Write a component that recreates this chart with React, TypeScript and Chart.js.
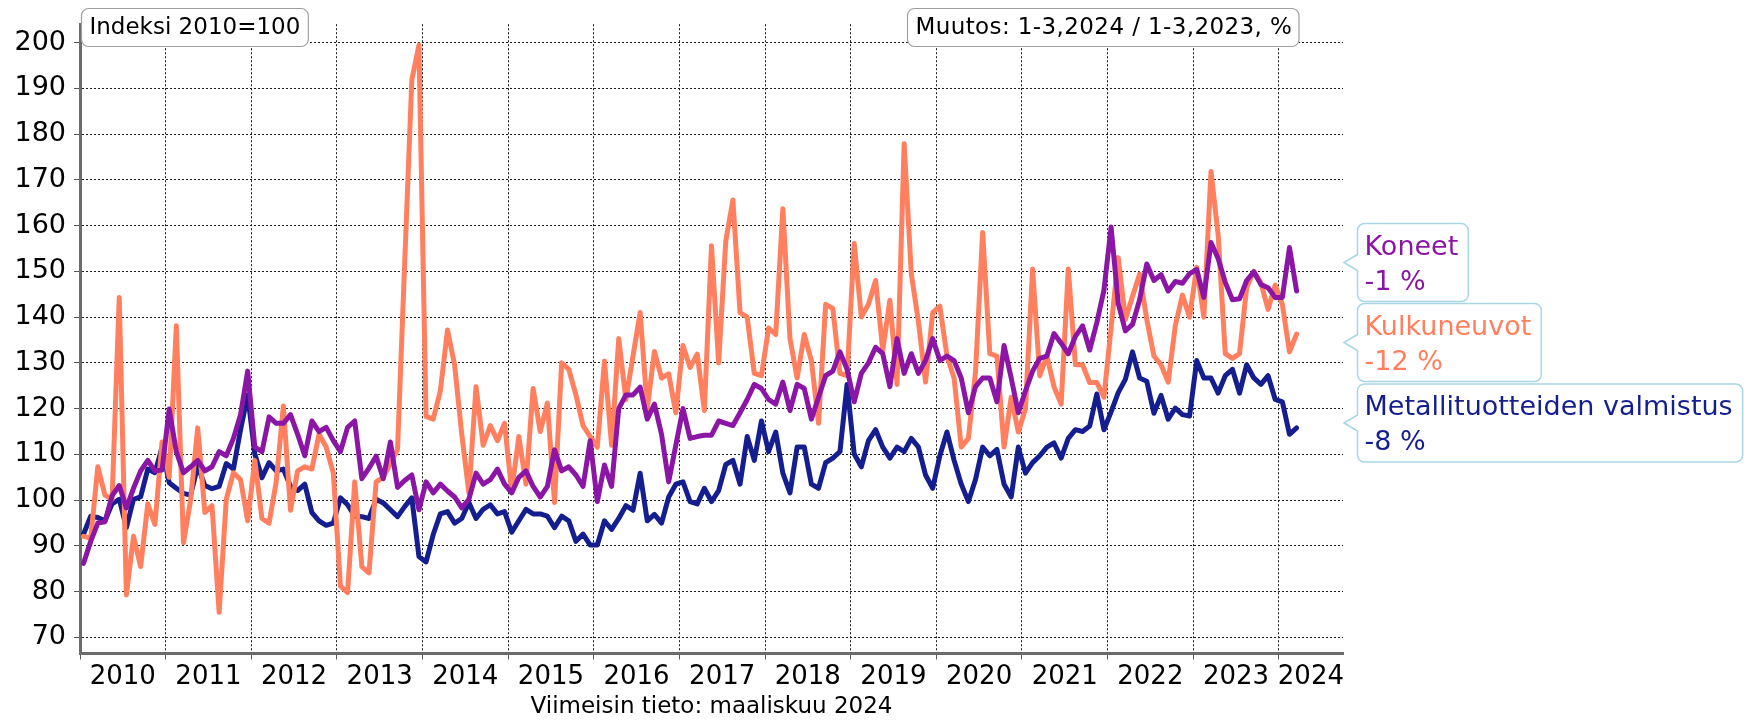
import React, { useEffect, useRef } from 'react';
import { Chart, registerables } from 'chart.js';

Chart.register(...registerables);

// ---- Data (monthly index 2010=100, Jan 2010 – Mar 2024) ----
const yearLabels = ['2010', '2011', '2012', '2013', '2014', '2015', '2016', '2017', '2018', '2019', '2020', '2021', '2022', '2023', '2024'];
const yTickValues = [70, 80, 90, 100, 110, 120, 130, 140, 150, 160, 170, 180, 190, 200];

const koneet = [
  86.2, 91, 95, 95.3, 101, 103.2, 98.3, 102.6, 106.4, 108.7, 106.4, 106.6,
  119.9, 110.6, 106, 107.3, 108.7, 106.4, 107.3, 110.6, 109.7, 113.5, 118.7, 128.2,
  111.6, 110.6, 118.2, 116.8, 116.8, 118.7, 114.4, 109.7, 117.3, 115, 115.9, 113,
  110.6, 115.9, 117.3, 104.7, 107, 109.6, 104.7, 112.7, 102.8, 104.3, 105.5, 97.9,
  104, 101.6, 103.5, 102, 100.7, 98.3, 100.2, 105.9, 103.5, 104.5, 106.8, 103.5,
  101.6, 105, 106.4, 103, 100.7, 103, 111, 106.4, 107.3, 105.5, 103, 113,
  99.7, 107.7, 103, 120, 123, 123, 124.7, 117.7, 121, 114.4, 104, 112,
  120, 113.5, 113.9, 114.2, 114.2, 117.3, 116.8, 116.3, 119.1, 122, 125.3, 124.4,
  122, 121, 125.8, 119.6, 125.3, 124.4, 117.7, 122.5, 127.2, 128.2, 132.4, 128.6,
  121.5, 127.7, 130, 133.4, 132, 124.8, 135.3, 127.7, 132, 127.7, 130.5, 135.3,
  130.5, 131.5, 130.5, 126.7, 119.1, 124.8, 126.7, 126.7, 121.5, 133.8, 126.7, 119.1,
  123.9, 128.2, 131, 131.5, 136.4, 134.3, 132, 135.8, 138.1, 132.8, 138.8, 145.9,
  159.7, 143, 137, 138.4, 143.8, 151.6, 148, 149.3, 145.7, 147.8, 147.4, 149.5,
  150.4, 144.3, 156.3, 152.8, 147.6, 143.8, 144, 148, 149.9, 147.1, 146.4, 144.3,
  144.3, 155.2, 145.7,
];

const kulkuneuvot = [
  92.1, 91.7, 107.3, 101.1, 100.2, 144.3, 79.3, 92.1, 85.5, 99.2, 94.7, 112.7,
  105, 138.1, 90.7, 100, 115.8, 97.3, 98.8, 75.5, 100.2, 106, 104.5, 95.5,
  108.7, 96, 95, 104, 120.6, 97.8, 106.4, 107.3, 106.8, 114.4, 111.6, 105.9,
  81.2, 79.8, 104, 85.5, 84.1, 104, 105, 108, 111.1, 151.7, 191.8, 199.4,
  118.3, 117.7, 123.9, 137.2, 129.6, 114.4, 101.6, 124.8, 112, 116.3, 113, 116.8,
  102, 113.9, 103.5, 124.4, 115, 121.2, 99.5, 130, 128.6, 123, 116.3, 113.9,
  111.6, 130.4, 112, 135.3, 122, 131.5, 141, 120, 132.5, 126.7, 127.6, 119.1,
  133.8, 129, 131.9, 119.6, 155.6, 130, 156.6, 165.6, 141, 140, 127.7, 127.2,
  137.6, 136.2, 163.7, 135.3, 126.7, 136.2, 130.5, 116.8, 142.8, 141.9, 127.7, 127.2,
  156.1, 140, 142.8, 148, 132.8, 143.7, 125.3, 177.9, 149.5, 139, 125.8, 141,
  142.4, 131.5, 126.7, 111.6, 113.5, 128, 158.5, 132, 131.5, 111.6, 122.5, 114.9,
  120, 150.5, 127.2, 131.5, 124.8, 121, 150.5, 129.6, 129.6, 125.7, 125.7, 122.5,
  137.7, 153, 139.5, 144.5, 149.4, 139.5, 131.5, 129.6, 125.8, 138.1, 144.8, 140,
  150.9, 140, 171.8, 158, 132, 131, 132, 146.5, 150, 147.5, 141.7, 147,
  142.8, 132.4, 136.3,
];

const metallituotteet = [
  92.6, 96.5, 96.2, 95.5, 99.2, 100.2, 94, 100.2, 100.7, 106.8, 106, 111.5,
  103.8, 102.6, 101.5, 101.1, 107.5, 103.2, 102.5, 103, 108, 106.8, 115.4, 123,
  110.1, 104.9, 108.2, 106.4, 106.8, 103, 102.1, 103.5, 97.3, 95.5, 94.5, 95,
  100.5, 99, 96.5, 96.4, 96, 100.2, 99.4, 97.9, 96.4, 98.6, 100.5, 87.7,
  86.5, 92.5, 97, 97.5, 95, 96, 99.5, 96, 98, 99, 97, 97.5,
  93, 95.5, 98, 97, 97, 96.5, 94, 96.5, 95.5, 91, 92.6, 90.2,
  90.2, 95.5, 93.6, 96, 98.8, 97.8, 105.9, 95.5, 96.9, 95, 100.7, 103.5,
  104, 99.7, 99.2, 102.6, 99.7, 102.1, 107.8, 108.7, 103.5, 113.9, 108.7, 117.3,
  110.6, 114.9, 105.9, 101.6, 111.6, 111.6, 103.5, 102.6, 108.2, 109.2, 110.6, 125.3,
  110.1, 107.3, 113, 115.4, 111.6, 109.2, 111.6, 110.6, 113.5, 111.6, 105.5, 102.6,
  109.7, 114.9, 108.7, 103.5, 99.7, 104.5, 111.6, 109.7, 111.1, 103.5, 100.7, 111.6,
  105.9, 108.2, 109.7, 111.6, 112.5, 109.2, 113.5, 115.4, 115, 116.2, 123.2, 115.4,
  119.3, 123.5, 126.4, 132.4, 126.7, 126, 119, 122.9, 117.7, 120.1, 118.7, 118.4,
  130.5, 126.7, 126.7, 123.4, 127.2, 128.6, 123.4, 129.6, 126.7, 125.3, 127.2, 122,
  121.5, 114.4, 115.8,
];

const seriesNames = ['Koneet', 'Kulkuneuvot', 'Metallituotteiden valmistus'];
const seriesChanges = ['-1 %', '-12 %', '-8 %'];
const indexNote = 'Indeksi 2010=100';
const changeNote = 'Muutos: 1-3,2024 / 1-3,2023, %';
const footerNote = 'Viimeisin tieto: maaliskuu 2024';

// ---- Styles ----
const COLORS = ['#8b16a5', '#ff7f5e', '#151e8e'];
const FONT = '"DejaVu Sans", Verdana, sans-serif';
const X_MAX = 177; // axis extends a little past the last month

const toPoints = (arr: number[]) => arr.map((v, i) => ({ x: i + 0.5, y: v }));

function roundRectPath(ctx: CanvasRenderingContext2D, x: number, y: number, w: number, h: number, r: number) {
  ctx.beginPath();
  ctx.moveTo(x + r, y);
  ctx.lineTo(x + w - r, y);
  ctx.arcTo(x + w, y, x + w, y + r, r);
  ctx.lineTo(x + w, y + h - r);
  ctx.arcTo(x + w, y + h, x + w - r, y + h, r);
  ctx.lineTo(x + r, y + h);
  ctx.arcTo(x, y + h, x, y + h - r, r);
  ctx.lineTo(x, y + r);
  ctx.arcTo(x, y, x + r, y, r);
  ctx.closePath();
}

function calloutPath(ctx: CanvasRenderingContext2D, x: number, y: number, w: number, h: number, r: number, tipX: number, tipY: number) {
  ctx.beginPath();
  ctx.moveTo(x + r, y);
  ctx.lineTo(x + w - r, y);
  ctx.arcTo(x + w, y, x + w, y + r, r);
  ctx.lineTo(x + w, y + h - r);
  ctx.arcTo(x + w, y + h, x + w - r, y + h, r);
  ctx.lineTo(x + r, y + h);
  ctx.arcTo(x, y + h, x, y + h - r, r);
  ctx.lineTo(x, tipY + 8);
  ctx.lineTo(tipX, tipY);
  ctx.lineTo(x, tipY - 8);
  ctx.lineTo(x, y + r);
  ctx.arcTo(x, y, x + r, y, r);
  ctx.closePath();
}

const annotationPlugin = {
  id: 'annotations',
  afterDraw(chart: any) {
    const ctx: CanvasRenderingContext2D = chart.ctx;
    const area = chart.chartArea;
    ctx.save();

    // top-left and top-right notes
    ctx.font = `23px ${FONT}`;
    ctx.textBaseline = 'middle';
    ctx.textAlign = 'left';
    const w1 = ctx.measureText(indexNote).width + 16;
    roundRectPath(ctx, 81.5, 8.5, w1, 38, 7);
    ctx.fillStyle = '#fff';
    ctx.fill();
    ctx.strokeStyle = '#a0a0a0';
    ctx.lineWidth = 1.2;
    ctx.stroke();
    ctx.fillStyle = '#000';
    ctx.fillText(indexNote, 89.5, 28.5);

    const x2 = 907.5;
    const w2 = 1299 - x2;
    roundRectPath(ctx, x2, 8.5, w2, 38, 7);
    ctx.fillStyle = '#fff';
    ctx.fill();
    ctx.strokeStyle = '#a0a0a0';
    ctx.stroke();
    ctx.fillStyle = '#000';
    (ctx as any).letterSpacing = '0.4px';
    ctx.fillText(changeNote, x2 + 8, 28.5);
    (ctx as any).letterSpacing = '0px';

    // right-side callouts
    ctx.font = `27px ${FONT}`;
    const tops = [223.5, 303.5, 384];
    const boxH = 78;
    const left = 1357.5;
    for (let k = 0; k < 3; k++) {
      const tw = Math.max(ctx.measureText(seriesNames[k]).width, ctx.measureText(seriesChanges[k]).width);
      let bw = tw + 17;
      if (left + bw > 1743) bw = 1743 - left;
      const top = tops[k];
      calloutPath(ctx, left, top, bw, boxH, 7, area.right + 1, top + 39);
      ctx.fillStyle = '#fff';
      ctx.fill();
      ctx.strokeStyle = '#a8d6e6';
      ctx.lineWidth = 1.5;
      ctx.stroke();
      ctx.fillStyle = COLORS[k];
      ctx.fillText(seriesNames[k], left + 7, top + 24);
      ctx.fillText(seriesChanges[k], left + 7, top + 59);
    }

    // footer
    ctx.font = `23px ${FONT}`;
    ctx.fillStyle = '#000';
    ctx.textAlign = 'center';
    ctx.fillText(footerNote, (area.left + area.right) / 2, 707);
    ctx.restore();
  },
};

export default function App() {
  const canvasRef = useRef<HTMLCanvasElement | null>(null);

  useEffect(() => {
    if (!canvasRef.current) return;
    const datasets = [koneet, kulkuneuvot, metallituotteet].map((arr, k) => ({
      label: seriesNames[k],
      data: toPoints(arr),
      borderColor: COLORS[k],
      backgroundColor: COLORS[k],
      borderWidth: 5,
      pointRadius: 0,
      tension: 0,
      borderJoinStyle: 'round' as const,
      borderCapStyle: 'round' as const,
      fill: false,
    }));

    const isBoundary = (v: number) => Math.abs(v % 12) < 1e-6;

    const chart = new Chart(canvasRef.current, {
      type: 'line',
      data: { datasets },
      options: {
        animation: false,
        responsive: false,
        devicePixelRatio: 1,
        layout: { padding: { top: 4.5, right: 401, bottom: 0, left: 0 } },
        plugins: { legend: { display: false }, tooltip: { enabled: false } },
        scales: {
          x: {
            type: 'linear',
            min: 0,
            max: X_MAX,
            afterBuildTicks: (scale: any) => {
              const t: { value: number }[] = [];
              for (let k = 0; k < yearLabels.length; k++) {
                t.push({ value: k * 12 });
                const center = k === yearLabels.length - 1 ? (k * 12 + X_MAX) / 2 : k * 12 + 6;
                t.push({ value: center });
              }
              scale.ticks = t;
            },
            afterFit: (scale: any) => {
              scale.height = 66.5;
            },
            ticks: {
              autoSkip: false,
              maxRotation: 0,
              padding: 2,
              color: '#000',
              font: { family: FONT, size: 26 },
              callback: (value: any) => (isBoundary(Number(value)) ? '' : yearLabels[Math.floor(Number(value) / 12)]),
            },
            grid: {
              drawTicks: true,
              tickLength: 6,
              lineWidth: 1,
              color: (c: any) => (c.tick && isBoundary(c.tick.value) ? '#1a1a1a' : 'rgba(0,0,0,0)'),
              tickColor: (c: any) => (c.tick && isBoundary(c.tick.value) ? '#555' : 'rgba(0,0,0,0)'),
            },
            border: { display: true, color: '#6b6b6b', width: 3, dash: [2, 2] },
          },
          y: {
            type: 'linear',
            min: 66.5,
            max: 204,
            afterBuildTicks: (scale: any) => {
              scale.ticks = yTickValues.map((v) => ({ value: v }));
            },
            afterFit: (scale: any) => {
              scale.width = 80;
            },
            ticks: {
              padding: 8,
              color: '#000',
              font: { family: FONT, size: 27 },
              callback: (value: any) => String(value),
            },
            grid: {
              drawTicks: true,
              tickLength: 6,
              lineWidth: 1,
              color: '#1a1a1a',
              tickColor: '#555',
            },
            border: { display: true, color: '#6b6b6b', width: 3, dash: [2, 2] },
          },
        },
      },
      plugins: [annotationPlugin],
    } as any);

    return () => {
      chart.destroy();
    };
  }, []);

  return (
    <div style={{ position: 'absolute', left: 0, top: 0, width: 1744, height: 720, background: '#fff' }}>
      <canvas ref={canvasRef} width={1744} height={720} style={{ display: 'block' }} />
    </div>
  );
}
